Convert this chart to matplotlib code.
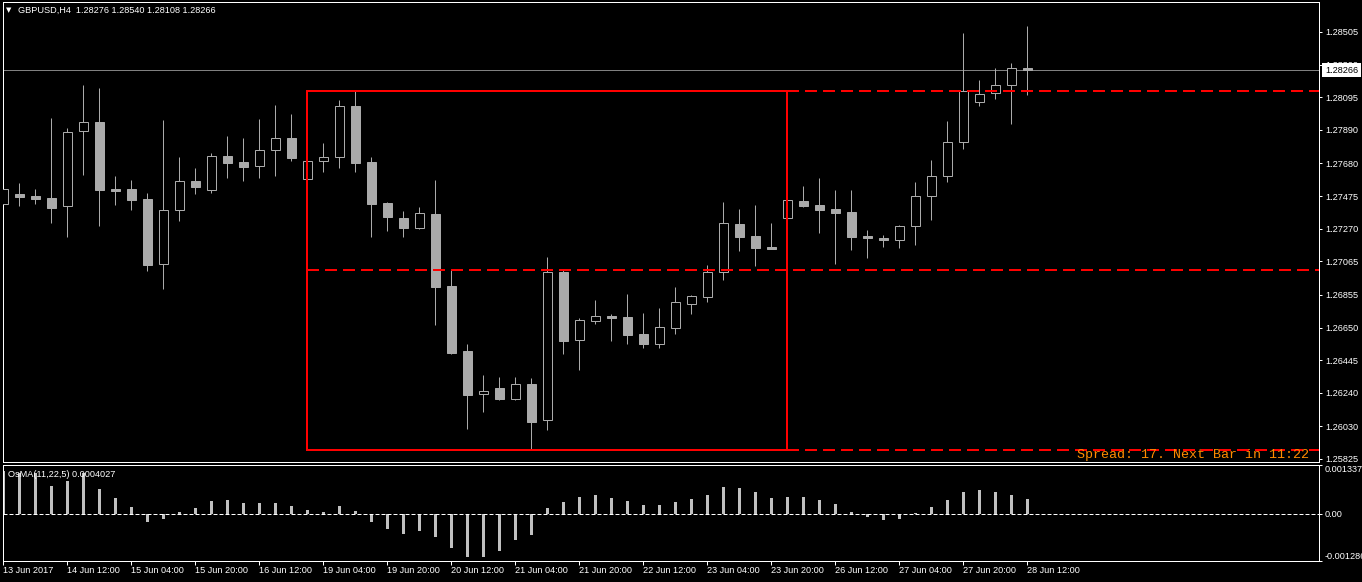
import matplotlib
matplotlib.use('Agg')
import matplotlib.pyplot as plt
import matplotlib.transforms as mtransforms
from matplotlib.patches import Rectangle

plt.rcParams['font.family'] = ['Liberation Sans', 'DejaVu Sans']
plt.rcParams['lines.scale_dashes'] = False

# GBPUSD H4 candles
opens = [1.27428, 1.27488, 1.27476, 1.27463, 1.27411, 1.27882, 1.27940, 1.27522, 1.27520, 1.27457,
         1.27047, 1.27386, 1.27570, 1.27512, 1.27725, 1.27689, 1.27662, 1.27763, 1.27838, 1.27585,
         1.27694, 1.27719, 1.28039, 1.27689, 1.27432, 1.27338, 1.27277, 1.27363, 1.26911, 1.26503,
         1.26231, 1.26271, 1.26204, 1.26296, 1.26068, 1.26999, 1.26570, 1.26690, 1.26723, 1.26717,
         1.26610, 1.26549, 1.26649, 1.26800, 1.26844, 1.26997, 1.27300, 1.27225, 1.27156, 1.27340,
         1.27443, 1.27419, 1.27394, 1.27376, 1.27225, 1.27212, 1.27198, 1.27286, 1.27474, 1.27600,
         1.27813, 1.28064, 1.28120, 1.28171, 1.28276]
highs = [1.27556, 1.27557, 1.27520, 1.27965, 1.27901, 1.28173, 1.28154, 1.27601, 1.27576, 1.27495,
         1.27953, 1.27721, 1.27652, 1.27746, 1.27853, 1.27840, 1.27959, 1.28047, 1.27991, 1.27700,
         1.27809, 1.28077, 1.28135, 1.27721, 1.27438, 1.27382, 1.27407, 1.27576, 1.27010, 1.26545,
         1.26353, 1.26340, 1.26340, 1.26334, 1.27093, 1.27018, 1.26710, 1.26823, 1.26734, 1.26861,
         1.26742, 1.26773, 1.26905, 1.26855, 1.27043, 1.27438, 1.27394, 1.27419, 1.27307, 1.27449,
         1.27539, 1.27589, 1.27514, 1.27514, 1.27263, 1.27231, 1.27296, 1.27564, 1.27702, 1.27947,
         1.28499, 1.28204, 1.28279, 1.28311, 1.28540]
lows = [1.27413, 1.27413, 1.27426, 1.27308, 1.27220, 1.27608, 1.27290, 1.27419, 1.27388, 1.27007,
        1.26894, 1.27321, 1.27490, 1.27497, 1.27591, 1.27572, 1.27591, 1.27603, 1.27697, 1.27580,
        1.27628, 1.27654, 1.27628, 1.27220, 1.27258, 1.27220, 1.27271, 1.26668, 1.26486, 1.26016,
        1.26122, 1.26196, 1.26198, 1.25882, 1.26009, 1.26486, 1.26386, 1.26669, 1.26568, 1.26549,
        1.26524, 1.26524, 1.26612, 1.26737, 1.26813, 1.26951, 1.27133, 1.27039, 1.27145, 1.27340,
        1.27409, 1.27246, 1.27051, 1.27139, 1.27089, 1.27158, 1.27151, 1.27170, 1.27327, 1.27566,
        1.27773, 1.28043, 1.28087, 1.27930, 1.28108]
closes = [1.27520, 1.27470, 1.27459, 1.27402, 1.27876, 1.27938, 1.27515, 1.27509, 1.27453, 1.27045,
          1.27386, 1.27568, 1.27534, 1.27725, 1.27685, 1.27660, 1.27763, 1.27838, 1.27716, 1.27694,
          1.27719, 1.28039, 1.27685, 1.27428, 1.27346, 1.27277, 1.27367, 1.26907, 1.26492, 1.26229,
          1.26250, 1.26204, 1.26296, 1.26059, 1.26997, 1.26568, 1.26698, 1.26721, 1.26712, 1.26604,
          1.26549, 1.26654, 1.26809, 1.26846, 1.26997, 1.27305, 1.27220, 1.27151, 1.27145, 1.27449,
          1.27415, 1.27390, 1.27371, 1.27220, 1.27212, 1.27202, 1.27286, 1.27474, 1.27600, 1.27813,
          1.28135, 1.28114, 1.28171, 1.28277, 1.28266]

# OsMA(11,22,5) histogram
osma = [0.00116, 0.00111, 0.00111, 0.000765, 0.000902, 0.00111, 0.000683, 0.000437, 0.000191, -0.000219,
        -0.000137, 0.0000638, 0.000173, 0.000355, 0.000383, 0.000301, 0.000301, 0.000301, 0.000219, 0.000109,
        0.0000546, 0.000219, 0.000082, -0.000219, -0.00041, -0.000546, -0.000465, -0.000628, -0.000929, -0.001175,
        -0.001175, -0.001002, -0.00071, -0.000574, 0.000164, 0.000328, 0.000464, 0.000519, 0.000437, 0.000355,
        0.000246, 0.000246, 0.000328, 0.00041, 0.000519, 0.000738, 0.00071, 0.000601, 0.000437, 0.000464,
        0.000464, 0.000383, 0.000273, 0.0000546, -0.0000729, -0.000164, -0.000137, 0.0000273, 0.000191, 0.000383,
        0.000601, 0.000656, 0.000601, 0.000519, 0.000403]

price_ticks = [1.28505, 1.28300, 1.28095, 1.27890, 1.27680, 1.27475, 1.27270,
               1.27065, 1.26855, 1.26650, 1.26445, 1.26240, 1.26030, 1.25825]
osma_ticks = [0.001337, 0.0, -0.001286]
osma_tick_labels = ['0.001337', '0.00', '-0.001286']
time_labels = ['13 Jun 2017', '14 Jun 12:00', '15 Jun 04:00', '15 Jun 20:00', '16 Jun 12:00',
               '19 Jun 04:00', '19 Jun 20:00', '20 Jun 12:00', '21 Jun 04:00', '21 Jun 20:00',
               '22 Jun 12:00', '23 Jun 04:00', '23 Jun 20:00', '26 Jun 12:00', '27 Jun 04:00',
               '27 Jun 20:00', '28 Jun 12:00']
box_start, box_end = 19, 49

W, H = 1362, 582
PX = 0.72  # one pixel in points
GRAY = '#aaaaaa'
FS = 6.6

fig = plt.figure(figsize=(W / 100, H / 100), dpi=100, facecolor='black')


def px_box(x0, y0, x1, y1):
    return [x0 / W, 1 - y1 / H, (x1 - x0) / W, (y1 - y0) / H]


ax = fig.add_axes(px_box(3, 2, 1319, 462), facecolor='black')
ax2 = fig.add_axes(px_box(3, 465, 1319, 561), facecolor='black')

n = len(opens)
idx = list(range(n))
xmax = 82.22

# candles
ax.vlines(idx, lows, highs, color=GRAY, lw=PX, zorder=2)
for i in idx:
    o, c = opens[i], closes[i]
    face = 'black' if c > o else GRAY
    ax.add_patch(Rectangle((i - 0.31, min(o, c)), 0.62, abs(c - o),
                           facecolor=face, edgecolor=GRAY, lw=PX, zorder=3))

ax.set_xlim(-0.03, xmax)
ax.set_ylim(1.25806, 1.28693)

# current price line and label
cur = closes[-1]
ax.axhline(cur, color='#808080', lw=PX, zorder=1)
trans = mtransforms.blended_transform_factory(ax.transAxes, ax.transData)
ax.text(1.0046, cur, f'{cur:.5f}', transform=trans, ha='left', va='center',
        color='black', fontsize=FS, clip_on=False, zorder=10,
        bbox=dict(boxstyle='square,pad=0.3', fc='white', ec='none'))

# range box drawn over the candles
hi = max(highs[box_start:box_end + 1])
lo = min(lows[box_start:box_end + 1])
mid = (hi + lo) / 2
ax.add_patch(Rectangle((box_start, lo), box_end - box_start, hi - lo,
                       fill=False, edgecolor='red', lw=2 * PX, zorder=5))
dash = (0, (12 * PX, 6 * PX))
ax.plot([box_end, xmax], [hi, hi], color='red', lw=2 * PX, ls=dash, zorder=5)
ax.plot([box_end, xmax], [lo, lo], color='red', lw=2 * PX, ls=dash, zorder=5)
ax.plot([box_start, xmax], [mid, mid], color='red', lw=2 * PX, ls=dash, zorder=5)

ax.text(0.9924, 0.0152, 'Spread: 17. Next Bar in 11:22', transform=ax.transAxes,
        ha='right', va='center', color='#ff8c00', fontsize=9.6,
        family='Liberation Mono', zorder=6)

ax.set_xticks([])
ax.yaxis.tick_right()
ax.set_yticks(price_ticks)
ax.set_yticklabels([f'{t:.5f}' for t in price_ticks])
ax.tick_params(axis='y', colors='white', length=3 * PX, width=PX, pad=3 * PX, labelsize=FS)

# OsMA panel
ax2.bar(idx, osma, width=0.17, color='#c0c0c0', zorder=2)
ax2.axhline(0, color='white', lw=PX, ls=(0, (4 * PX, 2 * PX)), zorder=3)
ax2.set_xlim(-0.03, xmax)
ax2.set_ylim(-0.001286, 0.001337)
ax2.yaxis.tick_right()
ax2.set_yticks(osma_ticks)
ax2.set_yticklabels(osma_tick_labels)
ax2.tick_params(axis='y', colors='white', length=3 * PX, width=PX, pad=3 * PX, labelsize=FS)
labels = ax2.get_yticklabels()
labels[0].set_va('top')
labels[2].set_va('bottom')
ax2.set_xticks(range(0, n, 4))
ax2.tick_params(axis='x', colors='white', length=4 * PX, width=PX, labelbottom=False)
tx = mtransforms.blended_transform_factory(ax2.transData, ax2.transAxes)
for k, lab in enumerate(time_labels):
    ax2.text(4 * k, -0.094, lab, transform=tx, ha='left', va='center',
             color='white', fontsize=FS, clip_on=False)
ax2.text(0.0038, 0.9, 'OsMA(11,22,5) 0.0004027', transform=ax2.transAxes,
         ha='left', va='center', color='white', fontsize=FS, zorder=4)

for a in (ax, ax2):
    for s in a.spines.values():
        s.set_color('white')
        s.set_linewidth(PX)

# window title
fig.text(6 / W, 1 - 10 / H, '\u25bc', color='white', fontsize=5, family='DejaVu Sans', va='center')
fig.text(18 / W, 1 - 10 / H,
         f'GBPUSD,H4  {opens[-1]:.5f} {highs[-1]:.5f} {lows[-1]:.5f} {closes[-1]:.5f}',
         color='white', fontsize=FS, va='center')

fig.savefig('out.png', dpi=100, facecolor='black')
